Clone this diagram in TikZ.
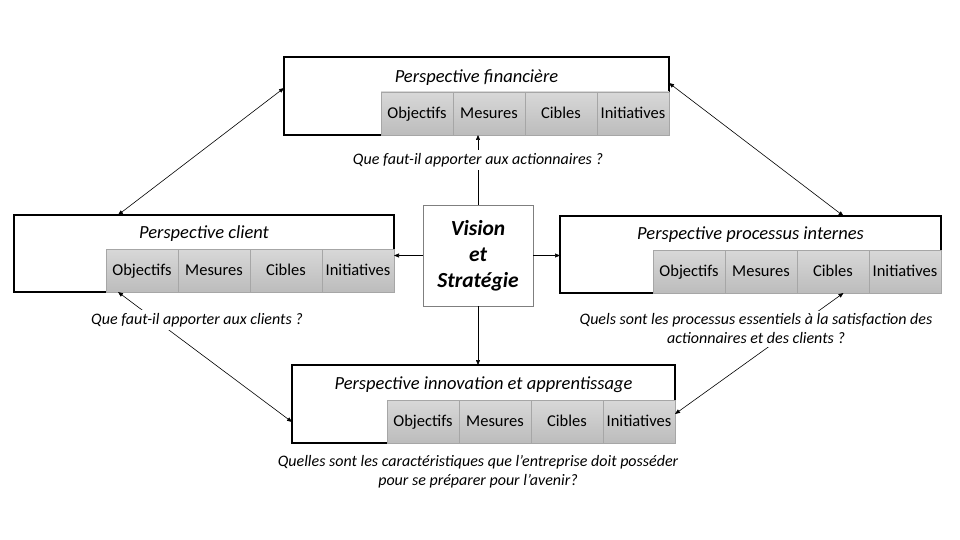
\documentclass[tikz,border=0pt]{standalone}
\usepackage{fontspec}
\setmainfont{Carlito}
\usetikzlibrary{arrows.meta,positioning,calc}
\definecolor{bsInk}{HTML}{000000}
\definecolor{bsCellTop}{HTML}{D8D8D8}
\definecolor{bsCellBot}{HTML}{BCBCBC}
\definecolor{bsCellLine}{HTML}{A6A6A6}
\definecolor{bsFrame}{HTML}{7F7F7F}
\tikzset{
  persp/.style  ={draw=bsInk,line width=2.6pt,outer sep=0pt,fill=white},
  ptitle/.style ={font=\fontsize{18.5}{22}\selectfont\itshape,inner sep=0pt},
  cell/.style   ={draw=bsCellLine,line width=0.6pt,top color=bsCellTop,bottom color=bsCellBot,
                  minimum width=72pt,minimum height=43pt,inner sep=0pt,outer sep=0pt,
                  text height=10pt,text depth=0pt,font=\fontsize{16.5}{19}\selectfont},
  vision/.style ={draw=bsFrame,line width=0.8pt,fill=white,minimum width=110pt,
                  minimum height=101pt,align=center,
                  font=\fontsize{21.5}{26}\selectfont\bfseries\itshape},
  flow/.style   ={-{Triangle[length=5pt,width=4pt]},bsInk,line width=0.6pt},
  flowtwo/.style={{Triangle[length=5pt,width=4pt]}-{Triangle[length=5pt,width=4pt]},
                  bsInk,line width=0.6pt},
  qlbl/.style   ={font=\fontsize{16}{19}\selectfont\itshape,fill=white,align=center,inner sep=3pt},
}
\begin{document}
\begin{tikzpicture}[x=1pt,y=-1pt]
\fill[white] (0,0) rectangle (960,540);
\useasboundingbox (0,0) rectangle (960,540);

\node[persp,minimum width=385pt,minimum height=78pt] (fin) at (476.5,96)  {};
\node[persp,minimum width=380pt,minimum height=77pt] (cli) at (204,253.5) {};
\node[persp,minimum width=381pt,minimum height=77pt] (pro) at (750.5,254.5) {};
\node[persp,minimum width=383pt,minimum height=78pt] (inn) at (483.5,404) {};

\node[ptitle] (fin-t) at ($(fin.north)+(0,21)$) {Perspective financière};
\node[ptitle] (cli-t) at ($(cli.north)+(0,19)$) {Perspective client};
\node[ptitle] (pro-t) at ($(pro.north)+(0,19)$) {Perspective processus internes};
\node[ptitle] (inn-t) at ($(inn.north)+(0,20)$) {Perspective innovation et apprentissage};

\foreach \b in {fin,cli,pro,inn} {
  \node[cell,anchor=south east] (\b-4) at (\b.south east) {Initiatives};
  \node[cell,left=0pt of \b-4] (\b-3) {Cibles};
  \node[cell,left=0pt of \b-3] (\b-2) {Mesures};
  \node[cell,left=0pt of \b-2] (\b-1) {Objectifs};
}

\node[vision] (vis) at (478,255.5) {Vision\\et\\Stratégie};

\draw[flow] (vis.north) -- (vis.north |- fin.south);
\draw[flow] (vis.west)  -- (vis.west -| cli.east);
\draw[flow] (vis.east)  -- (vis.east -| pro.west);
\draw[flow] (vis.south) -- (vis.south |- inn.north);

\draw[flowtwo] ([yshift=8pt]fin.west)   -- ([xshift=-86pt]cli.north);
\draw[flowtwo] ([yshift=13pt]fin.east)  -- ([xshift=93pt]pro.north);
\draw[flowtwo] ([xshift=-86pt]cli.south) -- ([yshift=-18pt]inn.west);
\draw[flowtwo] ([xshift=93pt]pro.south)  -- ([yshift=-10pt]inn.east);

\node[qlbl] (q-fin) at (478,160) {Que faut-il apporter aux actionnaires ?};
\node[qlbl] (q-cli) at (197,320) {Que faut-il apporter aux clients ?};
\node[qlbl] (q-pro) at (756,329) {Quels sont les processus essentiels à la satisfaction des\\actionnaires et des clients ?};
\node[qlbl] (q-inn) at (478,472) {Quelles sont les caractéristiques que l’entreprise doit posséder\\pour se préparer pour l’avenir?};
\end{tikzpicture}
\end{document}
